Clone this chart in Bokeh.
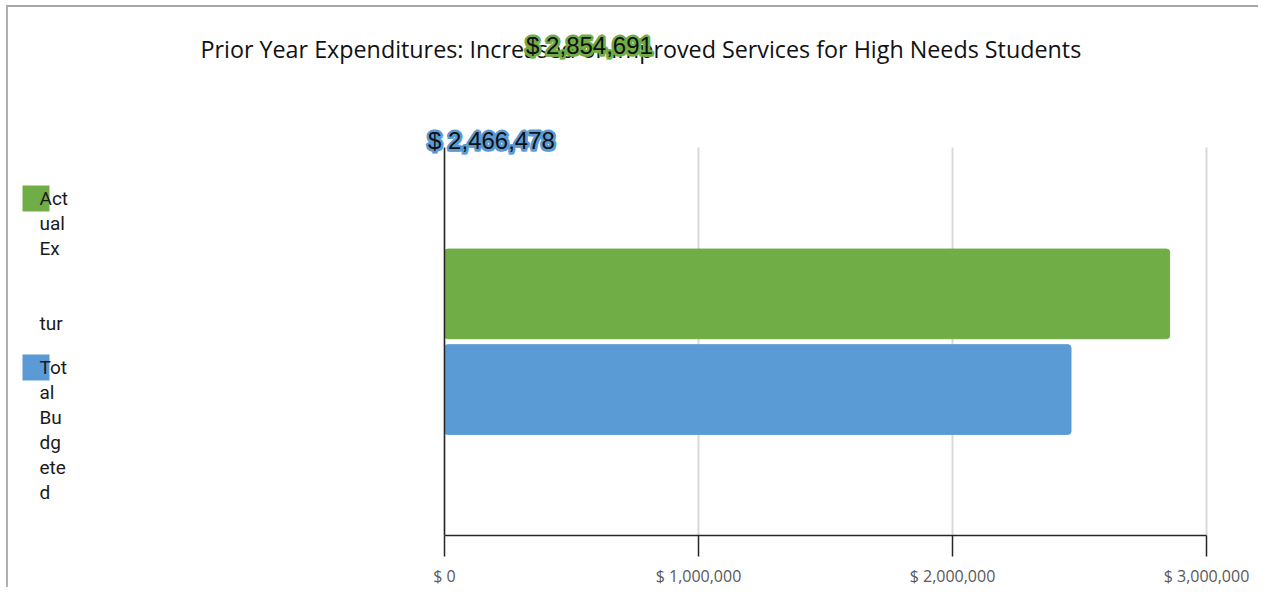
from bokeh.plotting import figure
from bokeh.models import (Label, BoxAnnotation, FixedTicker, Range1d, ColumnDataSource,
                          LinearAxis, Grid)
from bokeh.embed import file_html
from bokeh.resources import INLINE

# ---- data ----
title_text = "Prior Year Expenditures: Increased or Improved Services for High Needs Students"
series = ["Actual Expenditures", "Total Budgeted"]
values = [2854691, 2466478]
colors = ["#70ad47", "#5b9bd5"]
legend_lines = [["Act", "ual", "Ex", "", "", "tur"],
                ["Tot", "al", "Bu", "dg", "ete", "d"]]
tick_values = [0, 1000000, 2000000, 3000000]
tick_labels = ["$ 0", "$ 1,000,000", "$ 2,000,000", "$ 3,000,000"]

# ---- layout geometry (canvas pixels) ----
W, H = 1252, 582
FRAME_B = 530          # canvas y of the value axis
PLOT_T = 141           # canvas y of the top of the plot area
X0_PX, X1_PX = 436, 1198
PAGE_X, PAGE_Y = 8, 7  # canvas origin on the page

x_per_px = tick_values[-1] / (X1_PX - X0_PX)
y_per_px = 1.0 / (FRAME_B - PLOT_T)

p = figure(width=W, height=H, output_backend="svg", toolbar_location=None,
           x_range=Range1d(-X0_PX * x_per_px, (W - X0_PX) * x_per_px),
           y_range=Range1d(0, FRAME_B * y_per_px),
           y_axis_location=None,
           min_border_left=0, min_border_right=0, min_border_top=0,
           min_border_bottom=H - FRAME_B,
           background_fill_color="white", border_fill_color="white",
           styles={"margin-left": "6px", "margin-top": "5px",
                   "border-top": "2px solid #a6a6a6", "border-left": "2px solid #b0b0b0"})
p.outline_line_color = None

# bars: one category, two dodged series
bar_h = 0.2314
dodge_off = 0.1234
bar_y = [0.5 + dodge_off * (1 - 2 * i) for i in range(len(series))]
src = ColumnDataSource(dict(y=bar_y, right=values, color=colors, name=series))
p.hbar(y="y", left=0, right="right", height=bar_h, fill_color="color", line_color="color",
       source=src, border_radius=3)

# value axis
ticker = FixedTicker(ticks=tick_values)
p.xaxis.ticker = ticker
p.xaxis.bounds = (tick_values[0], tick_values[-1])
p.xaxis.major_label_overrides = {t: l for t, l in zip(tick_values, tick_labels)}
p.xaxis.axis_line_color = "#262626"
p.xaxis.axis_line_width = 1.5
p.xaxis.major_tick_line_color = "#262626"
p.xaxis.major_tick_line_width = 1.5
p.xaxis.major_tick_in = 0
p.xaxis.major_tick_out = 21
p.xaxis.minor_tick_line_color = None
p.xaxis.major_label_standoff = 8
p.xaxis.major_label_text_font = "Open Sans"
p.xaxis.major_label_text_font_size = "16px"
p.xaxis.major_label_text_color = "#595959"

# category axis line at x = 0
yax = LinearAxis(fixed_location=0, bounds=(0, 1), ticker=FixedTicker(ticks=[]),
                 axis_line_color="#262626", axis_line_width=1.5,
                 major_tick_in=0, major_tick_out=0, minor_tick_in=0, minor_tick_out=0,
                 major_label_standoff=0, major_label_text_font_size="0px")
p.add_layout(yax, "left")

# grid
g = p.xgrid[0]
g.ticker = ticker
g.bounds = (tick_values[0], tick_values[-1])
g.grid_line_color = "#d9d9d9"
g.grid_line_width = 2
p.ygrid.visible = False
if "cross_bounds" in Grid.properties():
    g.cross_bounds = (0, 1)
else:
    p.add_layout(BoxAnnotation(bottom=1, fill_color="white", fill_alpha=1,
                               line_color=None, level="underlay"))

def lab(text, px, py, **kw):
    # px, py: page position; converted to frame screen units
    p.add_layout(Label(x=px - PAGE_X, y=FRAME_B + PAGE_Y - py, x_units="screen",
                       y_units="screen", text=text, **kw))

# title
lab(title_text, 200, 50, text_font="Open Sans", text_font_size="23.3px", text_color="#111111",
    text_align="left", text_baseline="middle")

# value labels (placed as in the reference), black text with a coloured halo
halo = [(-2, 0), (2, 0), (0, -2), (0, 2), (-1.5, -1.5), (1.5, -1.5), (-1.5, 1.5), (1.5, 1.5)]
val_pos = [(589, 47), (491, 142)]
for v, c, (x, y) in zip(values, colors, val_pos):
    txt = "$ {:,}".format(v)
    for dx, dy in halo:
        lab(txt, x + dx, y + dy, text_font="Liberation Sans", text_font_size="24px",
            text_color=c, text_outline_color=c, text_align="center", text_baseline="middle")
    lab(txt, x, y, text_font="Liberation Sans", text_font_size="24px",
        text_color="#111111", text_align="center", text_baseline="middle")

# legend
sq_tops = [187, 356]
for lines, c, top in zip(legend_lines, colors, sq_tops):
    p.add_layout(BoxAnnotation(left=22 - PAGE_X, right=49 - PAGE_X,
                               top=FRAME_B + PAGE_Y - top, bottom=FRAME_B + PAGE_Y - top - 26,
                               left_units="screen", right_units="screen",
                               top_units="screen", bottom_units="screen",
                               fill_color=c, fill_alpha=1, line_color=None))
    for i, t in enumerate(lines):
        if t:
            lab(t, 39, top + 13 + 25 * i, text_font="Roboto", text_font_size="19px",
                text_color="#1a1a1a", text_align="left", text_baseline="middle")

open("out.html", "w").write(file_html(p, INLINE))
